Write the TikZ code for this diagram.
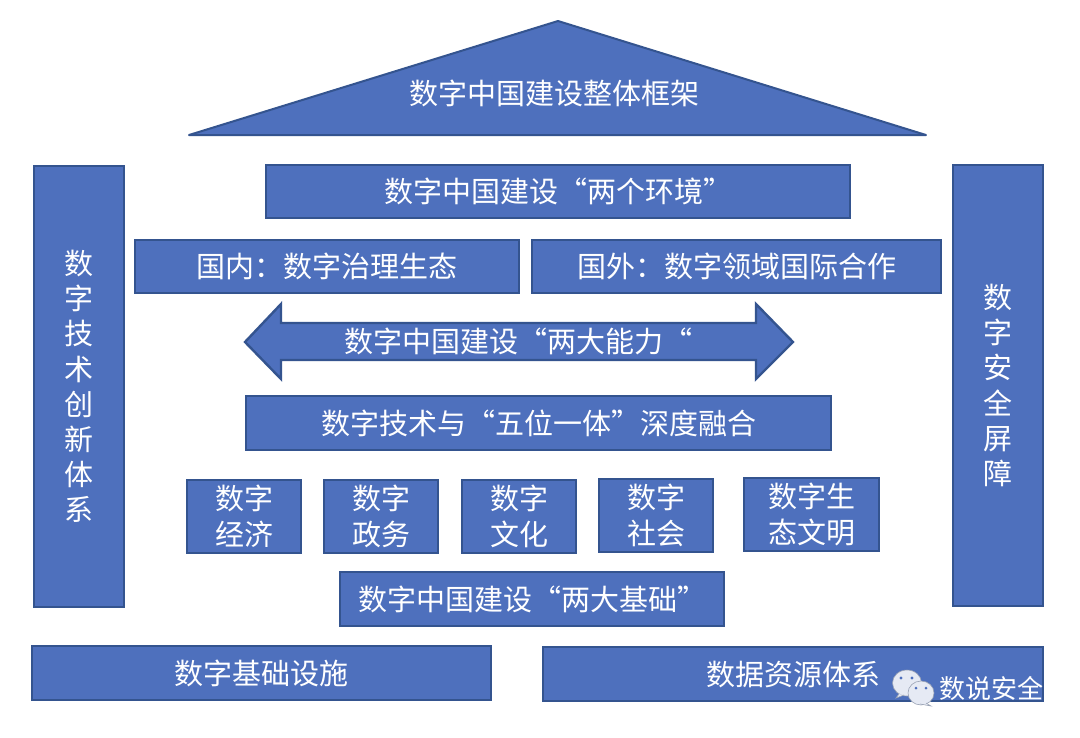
\documentclass[tikz,border=0pt]{standalone}
\usepackage{fontspec}
\setmainfont{Noto Sans CJK SC}
\newfontfamily\cjkfont{Noto Sans CJK SC}
\definecolor{panelblue}{HTML}{4E70BD}
\definecolor{paneledge}{HTML}{34548F}
\definecolor{bubblefill}{HTML}{E6EAF4}
\definecolor{bubbleedge}{HTML}{9AA3B5}
\tikzset{
  panel/.style={fill=panelblue,draw=paneledge,line width=2.4pt,line join=miter},
  roofpanel/.style={fill=panelblue,draw=paneledge,line width=2pt,line join=round},
  label/.style={text=white,inner sep=0pt,align=center,font=\cjkfont\fontsize{29}{36}\selectfont},
  vlabel/.style={text=white,inner sep=0pt,align=center,font=\cjkfont\fontsize{29}{35.2}\selectfont},
  bubble/.style={fill=bubblefill,draw=bubbleedge,line width=0.6pt},
  eye/.style={fill=panelblue,draw=none}
}
% \pbox{name}{left}{top}{right}{bottom}{style}{text}
\newcommand{\pbox}[7]{%
  \draw[panel] (#2,#3) rectangle (#4,#5);
  \node[#6] (#1) at ({(#2+#4)/2},{(#3+#5)/2}) {#7};
}
\begin{document}
\begin{tikzpicture}[x=1pt,y=-1pt]
\useasboundingbox (0,0) rectangle (1080,737);
\fill[white] (0,0) rectangle (1080,737);
% roof
\draw[roofpanel] (189,135) -- (558,21) -- (926,135) -- cycle;
\node[label] (roof) at (554,93.5) {数字中国建设整体框架};
% side pillars
\pbox{innov}{34}{166}{124}{607}{vlabel}{数\\字\\技\\术\\创\\新\\体\\系}
\pbox{secur}{953}{165}{1043}{606}{vlabel}{数\\字\\安\\全\\屏\\障}
% environment
\pbox{env}{266}{165}{850}{218}{label}{数字中国建设“两个环境”}
\pbox{dom}{135}{240}{519}{293}{label}{国内：数字治理生态}
\pbox{intl}{532}{240}{941}{293}{label}{国外：数字领域国际合作}
% double arrow
\draw[panel] (245,342) -- (281,304) -- (281,323) -- (756,323) -- (756,304) -- (793,342)
  -- (756,379) -- (756,360) -- (281,360) -- (281,379) -- cycle;
\node[label] (cap) at (518,341) {数字中国建设“两大能力“};
% five-in-one
\pbox{five}{246}{396}{831}{450}{label}{数字技术与“五位一体”深度融合}
\pbox{econ}{187}{480}{301}{553}{label}{数字\\经济}
\pbox{gov}{324}{480}{438}{553}{label}{数字\\政务}
\pbox{cult}{462}{480}{576}{553}{label}{数字\\文化}
\pbox{soc}{599}{479}{713}{552}{label}{数字\\社会}
\pbox{eco}{744}{478}{879}{551}{label}{数字生\\态文明}
% foundations
\pbox{base}{340}{572}{724}{626}{label}{数字中国建设“两大基础”}
\pbox{infra}{32}{646}{491}{700}{label}{数字基础设施}
\pbox{data}{543}{647}{1043}{701}{label}{数据资源体系}
% watermark
\draw[bubble] (907,683) ellipse (14.5 and 13);
\draw[bubble] (899,694) -- (896,698) -- (904,695);
\fill[eye] (901,678) circle (1.6);
\fill[eye] (912,678) circle (1.6);
\draw[bubble] (921,693) ellipse (13 and 12);
\draw[bubble] (926,703) -- (931,706) -- (920,704);
\fill[eye] (916,688) circle (1.5);
\fill[eye] (926,688) circle (1.5);
\node[text=white,inner sep=0pt,font=\cjkfont\fontsize{26}{30}\selectfont] (mark) at (991,689) {数说安全};
\end{tikzpicture}
\end{document}
